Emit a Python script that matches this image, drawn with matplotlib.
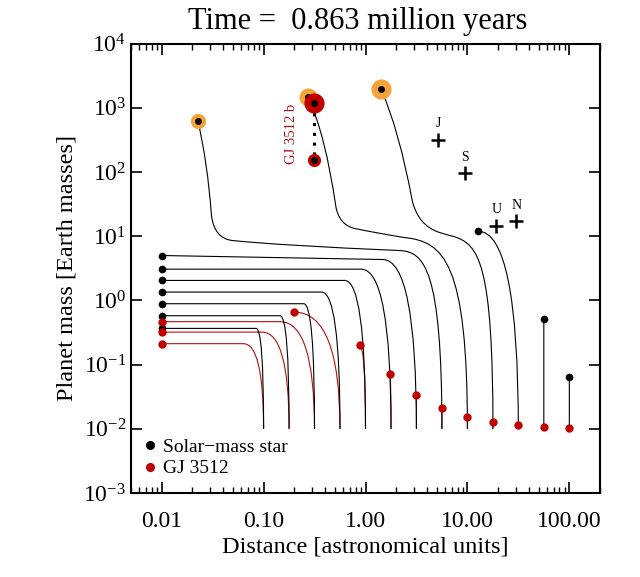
import matplotlib
matplotlib.use('Agg')
import matplotlib.pyplot as plt
from matplotlib.path import Path
from matplotlib.patches import PathPatch
from matplotlib.lines import Line2D
from matplotlib.ticker import NullLocator

plt.rcParams['font.family'] = ['Liberation Serif', 'DejaVu Serif']
plt.rcParams['mathtext.fontset'] = 'stix'

# --- 1. Data ---
# Solar-mass star: simple embryo tracks (start at 0.01 Earth masses at start_au)
sun_start_au = [0.1, 0.178, 0.316, 0.562, 1.0, 1.78, 3.16, 31.6, 56.2, 100]
sun_dot_au = [0.01, 0.01, 0.01, 0.01, 0.01, 0.01, 0.01, 12.7, 56.2, 100]
sun_dot_mass = [0.367, 0.578, 0.889, 1.35, 2.05, 3.07, 5.01, 12.0, 0.506, 0.065]
sun_knee_au = [0.0845, 0.145, 0.248, 0.370, 0.624, 0.908, 1.475, 12.7, 56.2, 100]
sun_knee_mass = [0.367, 0.578, 0.889, 1.35, 2.05, 3.07, 4.34, 12.0, 0.506, 0.065]

# GJ 3512: simple embryo tracks
gj_start_au = [0.1, 0.178, 0.316, 0.562, 1.0, 1.78, 3.16, 5.62, 10, 17.8, 31.6, 56.2, 100]
gj_dot_au = [0.01, 0.01, 0.01, 0.200, 0.874, 1.73, 3.16, 5.62, 10, 17.8, 31.6, 56.2, 100]
gj_dot_mass = [0.212, 0.321, 0.467, 0.658, 0.20, 0.0714, 0.034, 0.0211, 0.0155,
               0.0128, 0.0115, 0.0107, 0.0102]
gj_knee_au = [0.0635, 0.0967, 0.145, 0.200, 0.874, 1.73, 3.16, 5.62, 10, 17.8, 31.6, 56.2, 100]
gj_knee_mass = gj_dot_mass

track_floor_mass = 0.01

# Solar-mass star: gas giant tracks (path vertices incl. bezier control points)
giant1_au = [0.0226, 0.0281, 0.0308, 0.0329, 0.0493, 0.145, 2.15, 3.76, 5.62, 5.62]
giant1_mass = [630, 150, 21.0, 9.21, 8.58, 7.17, 5.99, 5.78, 3.15, 0.01]
giant2_au = [0.2735, 0.407, 0.510, 0.545, 0.781, 1.37, 2.40, 5.90, 10, 10]
giant2_mass = [1452, 368, 30.0, 15.2, 13.2, 11.0, 9.55, 8.27, 3.90, 0.01]
giant3_au = [1.423, 2.146, 2.874, 3.289, 5.27, 6.17, 7.38, 12.9, 17.8, 17.8]
giant3_mass = [1960, 440, 35.9, 14.7, 11.5, 10.6, 9.89, 7.43, 3.90, 0.01]

# GJ 3512 b (upper / lower mass)
gj3512b_au = 0.313
gj3512b_mass = [1170, 156]

# Solar system planets
ss_names = ['J', 'S', 'U', 'N']
ss_au = [5.20, 9.54, 19.2, 30.1]
ss_mass = [318, 95.2, 14.5, 17.1]

# --- 2. Styles ---
RED = '#c00000'
ORANGE = '#f5a33c'
giant_codes = [Path.MOVETO, Path.CURVE3, Path.CURVE3, Path.CURVE3, Path.CURVE3,
               Path.CURVE3, Path.CURVE3, Path.CURVE4, Path.CURVE4, Path.CURVE4]
giant_ms = [11, 13, 14.5]

fig = plt.figure(figsize=(6.4, 5.77), dpi=100)
ax = fig.add_axes([0.2047, 0.1455, 0.7328, 0.7789])
ax.set_xscale('log')
ax.set_yscale('log')
ax.set_xlim(0.005, 200)
ax.set_ylim(1e-3, 1e4)


def simple_track(a_dot, m_dot, a_knee, m_knee, a0, color):
    verts = [(a_dot, m_dot), (a_knee, m_knee), (a0, m_knee), (a0, track_floor_mass)]
    codes = [Path.MOVETO, Path.LINETO, Path.CURVE3, Path.CURVE3]
    ax.add_patch(PathPatch(Path(verts, codes), fill=False, edgecolor=color,
                           lw=0.8, zorder=2))


for i in range(len(gj_start_au)):
    simple_track(gj_dot_au[i], gj_dot_mass[i], gj_knee_au[i], gj_knee_mass[i],
                 gj_start_au[i], '#b01010')
for i in range(len(sun_start_au)):
    simple_track(sun_dot_au[i], sun_dot_mass[i], sun_knee_au[i], sun_knee_mass[i],
                 sun_start_au[i], 'black')

giants = [(giant1_au, giant1_mass), (giant2_au, giant2_mass), (giant3_au, giant3_mass)]
for (ga, gm), ms in zip(giants, giant_ms):
    ax.add_patch(PathPatch(Path(list(zip(ga, gm)), giant_codes), fill=False,
                           edgecolor='black', lw=0.8, zorder=2))
    ax.plot(ga[0], gm[0], 'o', color=ORANGE, ms=ms, mec='none', zorder=3)
    ax.plot(ga[0], gm[0], 'o', color='black', ms=5, mec='none', zorder=4)

# dots at the end of each simple track
ax.plot(sun_dot_au, sun_dot_mass, 'o', color='black', ms=5.5, mec='none', zorder=4)
ax.plot(gj_dot_au, gj_dot_mass, 'o', color=RED, ms=6, mec='none', zorder=4)

# GJ 3512 b
ax.plot([gj3512b_au, gj3512b_au], gj3512b_mass, color='black', lw=2.2,
        dashes=(1, 2.2), zorder=5)
ax.plot(gj3512b_au, gj3512b_mass[0], 'o', color=RED, ms=14.5, mec='none', zorder=6)
ax.plot(gj3512b_au, gj3512b_mass[1], 'o', color=RED, ms=9.5, mec='none', zorder=6)
ax.plot([gj3512b_au] * 2, gj3512b_mass, 'o', color='black', ms=5, mec='none', zorder=7)
ax.annotate('GJ 3512 b', (gj3512b_au, 395), xytext=(-16, 0), textcoords='offset points',
            rotation=90, ha='center', va='center', color='#b01018', fontsize=10.5)

# Solar system planets
ax.plot(ss_au, ss_mass, '+', color='black', ms=10, mew=1.8, zorder=5)
for name, a, m in zip(ss_names, ss_au, ss_mass):
    ax.annotate(name, (a, m), xytext=(0, 7), textcoords='offset points',
                ha='center', va='bottom', fontsize=10)

# axes styling
ax.set_xticks([0.01, 0.1, 1, 10, 100])
ax.set_xticklabels(['0.01', '0.10', '1.00', '10.00', '100.00'])
ax.set_yticks([1e-3, 1e-2, 1e-1, 1, 10, 100, 1e3, 1e4])
ax.yaxis.set_minor_locator(NullLocator())
ax.tick_params(which='both', direction='in', top=True, right=True, labelsize=17)
ax.tick_params(which='major', length=8, width=1.2)
ax.tick_params(which='minor', length=4, width=1)
ax.tick_params(axis='x', pad=13)
for sp in ax.spines.values():
    sp.set_linewidth(1.5)

ax.set_xlabel('Distance [astronomical units]', fontsize=17.5, labelpad=3)
ax.set_ylabel('Planet mass [Earth masses]', fontsize=17.5, labelpad=4)
fig.text(358 / 640, 1 - 21 / 577, 'Time =  0.863 million years', fontsize=22,
         ha='center', va='center')

handles = [Line2D([], [], marker='o', color='black', ls='', ms=5.5),
           Line2D([], [], marker='o', color=RED, ls='', ms=5.5)]
ax.legend(handles, ['Solar\u2212mass star', 'GJ 3512'], loc='lower left',
          bbox_to_anchor=(-0.009, 0.0), frameon=False, fontsize=14,
          handlelength=0.8, handletextpad=0.25, labelspacing=0.2,
          borderaxespad=0.5, borderpad=0.3)

fig.savefig('out.png', dpi=100)
